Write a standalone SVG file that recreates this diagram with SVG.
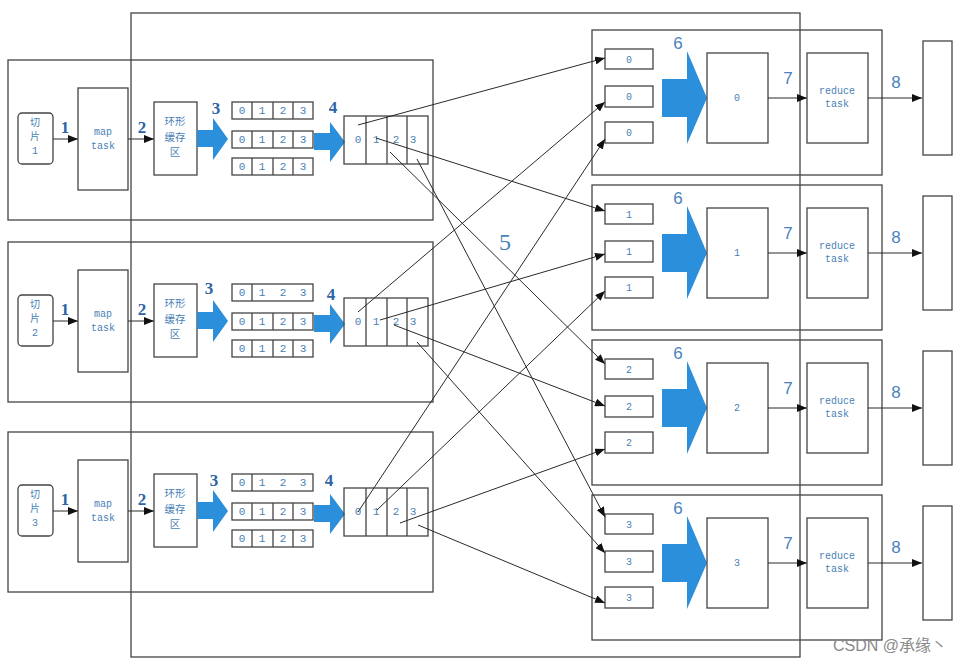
<svg xmlns="http://www.w3.org/2000/svg" width="972" height="663" viewBox="0 0 972 663">
<style>
.box{fill:none;stroke:#444;stroke-width:1.3}
.div{stroke:#444;stroke-width:1.3}
.blue{fill:#2b8fdc}
.lnk{stroke:#2a2a2a;stroke-width:1;fill:none}
.cell{font-family:"Liberation Mono","DejaVu Sans Mono",monospace;font-size:11px;fill:#4a7fb5;text-anchor:middle}
.mono{font-family:"Liberation Mono","DejaVu Sans Mono",monospace;font-size:10px;fill:#4a7fb5;text-anchor:middle}
.cjk{font-family:"Noto Sans CJK SC",sans-serif;font-size:10.5px;fill:#4a7fb5;text-anchor:middle}
.cjks{font-family:"Noto Sans CJK SC",sans-serif;font-size:10px;fill:#4a7fb5;text-anchor:middle}
.step{font-family:"Liberation Serif",serif;font-size:17px;font-weight:bold;fill:#2d64a6;text-anchor:middle}
.step2{font-family:"Liberation Sans",sans-serif;font-size:17px;fill:#4a82bd;text-anchor:middle}
.big{font-family:"Liberation Serif",serif;font-size:24px;fill:#4a82bd;text-anchor:middle}
.wm{font-family:"Liberation Sans","Noto Sans CJK SC",sans-serif;font-size:16px;fill:#8a8a8a}
</style>
<defs>
<marker id="ah" markerUnits="userSpaceOnUse" markerWidth="10" markerHeight="8" refX="10" refY="4" orient="auto">
<path d="M0,0 L10,4 L0,8 Z" fill="#111"/>
</marker>
</defs>
<rect width="972" height="663" fill="#fff"/>
<rect id="outer" x="131" y="13" width="669" height="644" class="box"/>

<g id="mapper1">
<rect x="8" y="60" width="425" height="160" class="box"/>
<g id="split1"><rect x="18" y="113" width="35" height="51" rx="4" class="box"/>
<text x="35" y="125.5" class="cjks">切</text><text x="35" y="140" class="cjks">片</text><text x="35" y="154" class="mono">1</text></g>
<text x="65" y="133" class="step">1</text>
<line x1="53" y1="139" x2="78" y2="139" class="lnk" marker-end="url(#ah)"/>
<g id="maptask1"><rect x="78" y="88" width="50" height="102" class="box"/>
<text x="103" y="135" class="mono">map</text><text x="103" y="149" class="mono">task</text></g>
<text x="142" y="133" class="step">2</text>
<line x1="128" y1="139" x2="154" y2="139" class="lnk" marker-end="url(#ah)"/>
<g id="buffer1"><rect x="154" y="102" width="43" height="73" class="box"/>
<text x="175" y="125" class="cjk">环形</text><text x="175" y="140.5" class="cjk">缓存</text><text x="175" y="156" class="cjk">区</text></g>
<path d="M197,130 H213 V118 L228,139 L213,160 V147 H197 Z" class="blue"/>
<text x="216" y="114" class="step">3</text>
<g id="spill1">
<rect x="232" y="102" width="81" height="17" class="box"/><path d="M252,102V119M273,102V119M293,102V119" class="div"/>
<text x="242" y="114" class="cell">0</text><text x="262" y="114" class="cell">1</text><text x="283" y="114" class="cell">2</text><text x="303" y="114" class="cell">3</text>
<rect x="232" y="131" width="81" height="17" class="box"/><path d="M252,131V148M273,131V148M293,131V148" class="div"/>
<text x="242" y="143" class="cell">0</text><text x="262" y="143" class="cell">1</text><text x="283" y="143" class="cell">2</text><text x="303" y="143" class="cell">3</text>
<rect x="232" y="158" width="81" height="17" class="box"/><path d="M252,158V175M273,158V175M293,158V175" class="div"/>
<text x="242" y="170" class="cell">0</text><text x="262" y="170" class="cell">1</text><text x="283" y="170" class="cell">2</text><text x="303" y="170" class="cell">3</text>
</g>
<path d="M314,133 H330 V122 L345,142 L330,162 V150 H314 Z" class="blue"/>
<text x="333" y="113" class="step">4</text>
<g id="partition1"><rect x="344" y="116" width="84" height="48" class="box"/><path d="M366,116V164M387,116V164M407,116V164" class="div"/>
<text x="358" y="143" class="cell">0</text><text x="376" y="143" class="cell">1</text><text x="396" y="143" class="cell">2</text><text x="413" y="143" class="cell">3</text></g>
</g>

<g id="mapper2" transform="translate(0,182)">
<rect x="8" y="60" width="425" height="160" class="box"/>
<g id="split2"><rect x="18" y="113" width="35" height="51" rx="4" class="box"/>
<text x="35" y="125.5" class="cjks">切</text><text x="35" y="140" class="cjks">片</text><text x="35" y="154" class="mono">2</text></g>
<text x="65" y="133" class="step">1</text>
<line x1="53" y1="139" x2="78" y2="139" class="lnk" marker-end="url(#ah)"/>
<g id="maptask2"><rect x="78" y="88" width="50" height="102" class="box"/>
<text x="103" y="135" class="mono">map</text><text x="103" y="149" class="mono">task</text></g>
<text x="142" y="133" class="step">2</text>
<line x1="128" y1="139" x2="154" y2="139" class="lnk" marker-end="url(#ah)"/>
<g id="buffer2"><rect x="154" y="102" width="43" height="73" class="box"/>
<text x="175" y="125" class="cjk">环形</text><text x="175" y="140.5" class="cjk">缓存</text><text x="175" y="156" class="cjk">区</text></g>
<path d="M197,130 H213 V118 L228,139 L213,160 V147 H197 Z" class="blue"/>
<text x="209" y="112" class="step">3</text>
<g id="spill2">
<rect x="232" y="102" width="81" height="17" class="box"/><path d="M252,102V119" class="div"/>
<text x="242" y="114" class="cell">0</text><text x="262" y="114" class="cell">1</text><text x="283" y="114" class="cell">2</text><text x="303" y="114" class="cell">3</text>
<rect x="232" y="131" width="81" height="17" class="box"/><path d="M252,131V148M273,131V148M293,131V148" class="div"/>
<text x="242" y="143" class="cell">0</text><text x="262" y="143" class="cell">1</text><text x="283" y="143" class="cell">2</text><text x="303" y="143" class="cell">3</text>
<rect x="232" y="158" width="81" height="17" class="box"/><path d="M252,158V175M273,158V175M293,158V175" class="div"/>
<text x="242" y="170" class="cell">0</text><text x="262" y="170" class="cell">1</text><text x="283" y="170" class="cell">2</text><text x="303" y="170" class="cell">3</text>
</g>
<path d="M314,133 H330 V122 L345,142 L330,162 V150 H314 Z" class="blue"/>
<text x="331" y="118" class="step">4</text>
<g id="partition2"><rect x="344" y="116" width="84" height="48" class="box"/><path d="M366,116V164M387,116V164M407,116V164" class="div"/>
<text x="358" y="143" class="cell">0</text><text x="376" y="143" class="cell">1</text><text x="396" y="143" class="cell">2</text><text x="413" y="143" class="cell">3</text></g>
</g>

<g id="mapper3" transform="translate(0,372)">
<rect x="8" y="60" width="425" height="160" class="box"/>
<g id="split3"><rect x="18" y="113" width="35" height="51" rx="4" class="box"/>
<text x="35" y="125.5" class="cjks">切</text><text x="35" y="140" class="cjks">片</text><text x="35" y="154" class="mono">3</text></g>
<text x="65" y="133" class="step">1</text>
<line x1="53" y1="139" x2="78" y2="139" class="lnk" marker-end="url(#ah)"/>
<g id="maptask3"><rect x="78" y="88" width="50" height="102" class="box"/>
<text x="103" y="135" class="mono">map</text><text x="103" y="149" class="mono">task</text></g>
<text x="142" y="133" class="step">2</text>
<line x1="128" y1="139" x2="154" y2="139" class="lnk" marker-end="url(#ah)"/>
<g id="buffer3"><rect x="154" y="102" width="43" height="73" class="box"/>
<text x="175" y="125" class="cjk">环形</text><text x="175" y="140.5" class="cjk">缓存</text><text x="175" y="156" class="cjk">区</text></g>
<path d="M197,130 H213 V118 L228,139 L213,160 V147 H197 Z" class="blue"/>
<text x="214" y="114" class="step">3</text>
<g id="spill3">
<rect x="232" y="102" width="81" height="17" class="box"/><path d="M252,102V119" class="div"/>
<text x="242" y="114" class="cell">0</text><text x="262" y="114" class="cell">1</text><text x="283" y="114" class="cell">2</text><text x="303" y="114" class="cell">3</text>
<rect x="232" y="131" width="81" height="17" class="box"/><path d="M252,131V148M273,131V148M293,131V148" class="div"/>
<text x="242" y="143" class="cell">0</text><text x="262" y="143" class="cell">1</text><text x="283" y="143" class="cell">2</text><text x="303" y="143" class="cell">3</text>
<rect x="232" y="158" width="81" height="17" class="box"/><path d="M252,158V175M273,158V175M293,158V175" class="div"/>
<text x="242" y="170" class="cell">0</text><text x="262" y="170" class="cell">1</text><text x="283" y="170" class="cell">2</text><text x="303" y="170" class="cell">3</text>
</g>
<path d="M314,133 H330 V122 L345,142 L330,162 V150 H314 Z" class="blue"/>
<text x="329" y="114" class="step">4</text>
<g id="partition3"><rect x="344" y="116" width="84" height="48" class="box"/><path d="M366,116V164M387,116V164M407,116V164" class="div"/>
<text x="358" y="143" class="cell">0</text><text x="376" y="143" class="cell">1</text><text x="396" y="143" class="cell">2</text><text x="413" y="143" class="cell">3</text></g>
</g>

<g id="reducer0">
<rect x="592" y="30" width="290" height="145" class="box"/>
<rect x="605" y="49" width="48" height="20" class="box"/><text x="629" y="63" class="mono">0</text>
<rect x="605" y="86" width="48" height="21" class="box"/><text x="629" y="100" class="mono">0</text>
<rect x="605" y="122" width="48" height="21" class="box"/><text x="629" y="136" class="mono">0</text>
<path d="M662,79 H687 V51 L707,98 L687,144 V117 H662 Z" class="blue"/>
<text x="678" y="49" class="step2">6</text>
<rect x="707" y="53" width="61" height="90" class="box"/><text x="737" y="101" class="mono">0</text>
<line x1="768" y1="98" x2="807" y2="98" class="lnk" marker-end="url(#ah)"/>
<text x="788" y="84" class="step2">7</text>
<rect x="807" y="53" width="61" height="90" class="box"/><text x="837" y="94" class="mono">reduce</text><text x="837" y="107" class="mono">task</text>
<line x1="868" y1="98" x2="922" y2="98" class="lnk" marker-end="url(#ah)"/>
<text x="896" y="88" class="step2">8</text>
<rect x="923" y="41" width="29" height="114" class="box"/>
</g>
<g id="reducer1" transform="translate(0,155)">
<rect x="592" y="30" width="290" height="145" class="box"/>
<rect x="605" y="49" width="48" height="20" class="box"/><text x="629" y="63" class="mono">1</text>
<rect x="605" y="86" width="48" height="21" class="box"/><text x="629" y="100" class="mono">1</text>
<rect x="605" y="122" width="48" height="21" class="box"/><text x="629" y="136" class="mono">1</text>
<path d="M662,79 H687 V51 L707,98 L687,144 V117 H662 Z" class="blue"/>
<text x="678" y="49" class="step2">6</text>
<rect x="707" y="53" width="61" height="90" class="box"/><text x="737" y="101" class="mono">1</text>
<line x1="768" y1="98" x2="807" y2="98" class="lnk" marker-end="url(#ah)"/>
<text x="788" y="84" class="step2">7</text>
<rect x="807" y="53" width="61" height="90" class="box"/><text x="837" y="94" class="mono">reduce</text><text x="837" y="107" class="mono">task</text>
<line x1="868" y1="98" x2="922" y2="98" class="lnk" marker-end="url(#ah)"/>
<text x="896" y="88" class="step2">8</text>
<rect x="923" y="41" width="29" height="114" class="box"/>
</g>
<g id="reducer2" transform="translate(0,310)">
<rect x="592" y="30" width="290" height="145" class="box"/>
<rect x="605" y="49" width="48" height="20" class="box"/><text x="629" y="63" class="mono">2</text>
<rect x="605" y="86" width="48" height="21" class="box"/><text x="629" y="100" class="mono">2</text>
<rect x="605" y="122" width="48" height="21" class="box"/><text x="629" y="136" class="mono">2</text>
<path d="M662,79 H687 V51 L707,98 L687,144 V117 H662 Z" class="blue"/>
<text x="678" y="49" class="step2">6</text>
<rect x="707" y="53" width="61" height="90" class="box"/><text x="737" y="101" class="mono">2</text>
<line x1="768" y1="98" x2="807" y2="98" class="lnk" marker-end="url(#ah)"/>
<text x="788" y="84" class="step2">7</text>
<rect x="807" y="53" width="61" height="90" class="box"/><text x="837" y="94" class="mono">reduce</text><text x="837" y="107" class="mono">task</text>
<line x1="868" y1="98" x2="922" y2="98" class="lnk" marker-end="url(#ah)"/>
<text x="896" y="88" class="step2">8</text>
<rect x="923" y="41" width="29" height="114" class="box"/>
</g>
<g id="reducer3" transform="translate(0,465)">
<rect x="592" y="30" width="290" height="145" class="box"/>
<rect x="605" y="49" width="48" height="20" class="box"/><text x="629" y="63" class="mono">3</text>
<rect x="605" y="86" width="48" height="21" class="box"/><text x="629" y="100" class="mono">3</text>
<rect x="605" y="122" width="48" height="21" class="box"/><text x="629" y="136" class="mono">3</text>
<path d="M662,79 H687 V51 L707,98 L687,144 V117 H662 Z" class="blue"/>
<text x="678" y="49" class="step2">6</text>
<rect x="707" y="53" width="61" height="90" class="box"/><text x="737" y="101" class="mono">3</text>
<line x1="768" y1="98" x2="807" y2="98" class="lnk" marker-end="url(#ah)"/>
<text x="788" y="84" class="step2">7</text>
<rect x="807" y="53" width="61" height="90" class="box"/><text x="837" y="94" class="mono">reduce</text><text x="837" y="107" class="mono">task</text>
<line x1="868" y1="98" x2="922" y2="98" class="lnk" marker-end="url(#ah)"/>
<text x="896" y="88" class="step2">8</text>
<rect x="923" y="41" width="29" height="114" class="box"/>
</g>

<g id="shuffle">
<line x1="358" y1="125" x2="605" y2="58" class="lnk" marker-end="url(#ah)"/>
<line x1="358" y1="312" x2="605" y2="102" class="lnk" marker-end="url(#ah)"/>
<line x1="358" y1="512" x2="605" y2="139" class="lnk" marker-end="url(#ah)"/>
<line x1="376" y1="138" x2="605" y2="211" class="lnk" marker-end="url(#ah)"/>
<line x1="380" y1="320" x2="605" y2="254" class="lnk" marker-end="url(#ah)"/>
<line x1="377" y1="510" x2="605" y2="291" class="lnk" marker-end="url(#ah)"/>
<line x1="390" y1="152" x2="605" y2="364" class="lnk" marker-end="url(#ah)"/>
<line x1="394" y1="325" x2="605" y2="406" class="lnk" marker-end="url(#ah)"/>
<line x1="400" y1="523" x2="605" y2="449" class="lnk" marker-end="url(#ah)"/>
<line x1="417" y1="159" x2="605" y2="517" class="lnk" marker-end="url(#ah)"/>
<line x1="417" y1="342" x2="605" y2="553" class="lnk" marker-end="url(#ah)"/>
<line x1="418" y1="525" x2="605" y2="603" class="lnk" marker-end="url(#ah)"/>
</g>
<text x="505" y="250" class="big">5</text>
<text x="833" y="651" class="wm">CSDN @承缘丶</text>
</svg>
